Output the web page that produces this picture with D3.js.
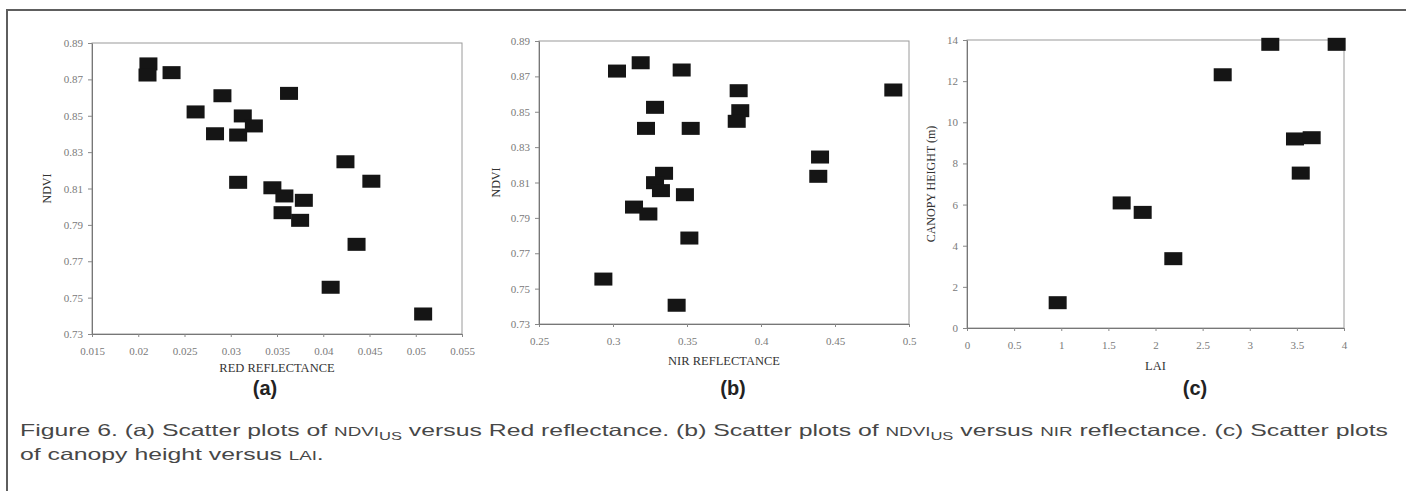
<!DOCTYPE html>
<html><head><meta charset="utf-8">
<script src="https://cdn.jsdelivr.net/npm/d3@7"></script>
<style>html,body{margin:0;padding:0;background:#fff;} svg{display:block;}</style>
</head><body>
<svg id="chart" width="1406" height="491"></svg>
<script>
// ---------- data ----------
const redReflectance = [0.0211, 0.0210, 0.0236, 0.0291, 0.0363, 0.0262, 0.0313, 0.0325, 0.0283, 0.0308, 0.0424, 0.0452, 0.0308, 0.0345, 0.0358, 0.0379, 0.0356, 0.0375, 0.0436, 0.0408, 0.0508];
const ndviRed = [0.8785, 0.8724, 0.8737, 0.8610, 0.8623, 0.8521, 0.8499, 0.8444, 0.8401, 0.8394, 0.8247, 0.8140, 0.8134, 0.8104, 0.8059, 0.8035, 0.7967, 0.7925, 0.7793, 0.7557, 0.7410];

const nirReflectance = [0.3027, 0.3187, 0.3464, 0.3849, 0.4894, 0.3284, 0.3860, 0.3836, 0.3223, 0.3525, 0.4399, 0.4387, 0.3345, 0.3284, 0.3324, 0.3486, 0.3142, 0.3239, 0.3516, 0.2935, 0.3430];
const ndviNir = [0.8730, 0.8777, 0.8736, 0.8619, 0.8623, 0.8525, 0.8506, 0.8446, 0.8406, 0.8406, 0.8244, 0.8135, 0.8152, 0.8099, 0.8054, 0.8031, 0.7961, 0.7922, 0.7786, 0.7554, 0.7406];

const lai = [0.962, 1.641, 1.864, 2.189, 2.713, 3.218, 3.922, 3.480, 3.657, 3.541];
const canopyHeight = [1.23, 6.08, 5.62, 3.37, 12.31, 13.79, 13.79, 9.19, 9.25, 7.53];

const redTicks = [0.015, 0.02, 0.025, 0.03, 0.035, 0.04, 0.045, 0.05, 0.055];
const nirTicks = [0.25, 0.3, 0.35, 0.4, 0.45, 0.5];
const ndviTicks = [0.73, 0.75, 0.77, 0.79, 0.81, 0.83, 0.85, 0.87, 0.89];
const laiTicks = [0, 0.5, 1, 1.5, 2, 2.5, 3, 3.5, 4];
const heightTicks = [0, 2, 4, 6, 8, 10, 12, 14];

const panelLabels = ["(a)", "(b)", "(c)"];
const xTitles = ["RED REFLECTANCE", "NIR REFLECTANCE", "LAI"];
const yTitles = ["NDVI", "NDVI", "CANOPY HEIGHT (m)"];

// ---------- drawing ----------
const svg = d3.select("#chart");
const serif = "'Liberation Serif', 'Times New Roman', serif";
const sans = "'Liberation Sans', Arial, sans-serif";
const capSans = "'Liberation Sans Narrow', 'Liberation Sans', Arial, sans-serif";

// outer frame (top and left edges visible)
svg.append("path").attr("d", "M7,491V10H1406").attr("fill", "none")
  .attr("stroke", "#5e5e5e").attr("stroke-width", 2);

const fmt = d => String(+d.toFixed(3));

function panel(cfg) {
  const x = d3.scaleLinear().domain([cfg.xTicks[0], cfg.xTicks[cfg.xTicks.length - 1]]).range([cfg.x0, cfg.x1]);
  const y = d3.scaleLinear().domain([cfg.yTicks[0], cfg.yTicks[cfg.yTicks.length - 1]]).range([cfg.y1, cfg.y0]);

  svg.append("rect").attr("x", cfg.x0).attr("y", cfg.y0)
    .attr("width", cfg.x1 - cfg.x0).attr("height", cfg.y1 - cfg.y0)
    .attr("fill", "none").attr("stroke", "#9a9a9a").attr("stroke-width", 1);

  const gx = svg.append("g").attr("transform", `translate(0,${cfg.y1})`)
    .call(d3.axisBottom(x).tickValues(cfg.xTicks).tickFormat(fmt).tickSize(3).tickSizeOuter(0).tickPadding(10));
  const gy = svg.append("g").attr("transform", `translate(${cfg.x0},0)`)
    .call(d3.axisLeft(y).tickValues(cfg.yTicks).tickFormat(fmt).tickSize(4).tickSizeOuter(0).tickPadding(5));
  [gx, gy].forEach(g => {
    g.select(".domain").attr("stroke", "#777");
    g.selectAll(".tick line").attr("stroke", "#888");
    g.selectAll(".tick text").attr("font-family", serif).attr("font-size", 11).attr("fill", "#7a7a7a");
  });

  svg.append("g").selectAll("rect").data(cfg.xs.map((v, i) => [v, cfg.ys[i]])).join("rect")
    .attr("x", d => x(d[0]) - 9).attr("y", d => y(d[1]) - 6.5)
    .attr("width", 18).attr("height", 13).attr("fill", "#151515");

  svg.append("text").attr("x", (cfg.x0 + cfg.x1) / 2).attr("y", cfg.xTitleY)
    .attr("text-anchor", "middle").attr("font-family", serif).attr("font-size", 12.5)
    .attr("fill", "#333").text(cfg.xTitle);
  svg.append("text").attr("transform", `translate(${cfg.yTitleX},${(cfg.y0 + cfg.y1) / 2}) rotate(-90)`)
    .attr("text-anchor", "middle").attr("font-family", serif).attr("font-size", 12)
    .attr("fill", "#333").text(cfg.yTitle);

  svg.append("text").attr("x", cfg.labelX).attr("y", 395)
    .attr("text-anchor", "middle").attr("font-family", sans).attr("font-weight", "bold")
    .attr("font-size", 20).attr("fill", "#222").text(cfg.label);
}

panel({x0: 92, x1: 462, y0: 43, y1: 334, xTicks: redTicks, yTicks: ndviTicks,
  xs: redReflectance, ys: ndviRed, xTitle: xTitles[0], yTitle: yTitles[0],
  xTitleY: 372, yTitleX: 51, label: panelLabels[0], labelX: 265});
panel({x0: 539, x1: 909, y0: 41, y1: 324, xTicks: nirTicks, yTicks: ndviTicks,
  xs: nirReflectance, ys: ndviNir, xTitle: xTitles[1], yTitle: yTitles[1],
  xTitleY: 365, yTitleX: 500, label: panelLabels[1], labelX: 733});
panel({x0: 967, x1: 1344, y0: 40, y1: 328, xTicks: laiTicks, yTicks: heightTicks,
  xs: lai, ys: canopyHeight, xTitle: xTitles[2], yTitle: yTitles[2],
  xTitleY: 370, yTitleX: 935, label: panelLabels[2], labelX: 1195});

// ---------- caption ----------
function caption(y, parts) {
  const t = svg.append("text").attr("x", 20).attr("y", y)
    .attr("font-family", capSans).attr("font-size", 16.5).attr("fill", "#474747");
  parts.forEach(p => {
    const s = t.append("tspan").text(p.t);
    if (p.sc) s.attr("font-size", 12.5);
    if (p.sub) s.attr("font-size", 11).attr("dy", 4);
    if (p.up) s.attr("dy", -4);
  });
  return t;
}
const line1 = caption(436, [
  {t: "Figure 6. (a) Scatter plots of "}, {t: "NDVI", sc: 1}, {t: "US", sub: 1},
  {t: " versus Red reflectance. (b) Scatter plots of ", up: 1}, {t: "NDVI", sc: 1}, {t: "US", sub: 1},
  {t: " versus ", up: 1}, {t: "NIR", sc: 1}, {t: " reflectance. (c) Scatter plots"}
]);
const line2 = caption(460, [
  {t: "of canopy height versus "}, {t: "LAI", sc: 1}, {t: "."}
]);
const n1 = line1.node().getComputedTextLength();
const n2 = line2.node().getComputedTextLength();
const ratio = (1388 - 20) / n1;
line1.attr("textLength", n1 * ratio).attr("lengthAdjust", "spacingAndGlyphs");
line2.attr("textLength", n2 * ratio).attr("lengthAdjust", "spacingAndGlyphs");
</script></body></html>
